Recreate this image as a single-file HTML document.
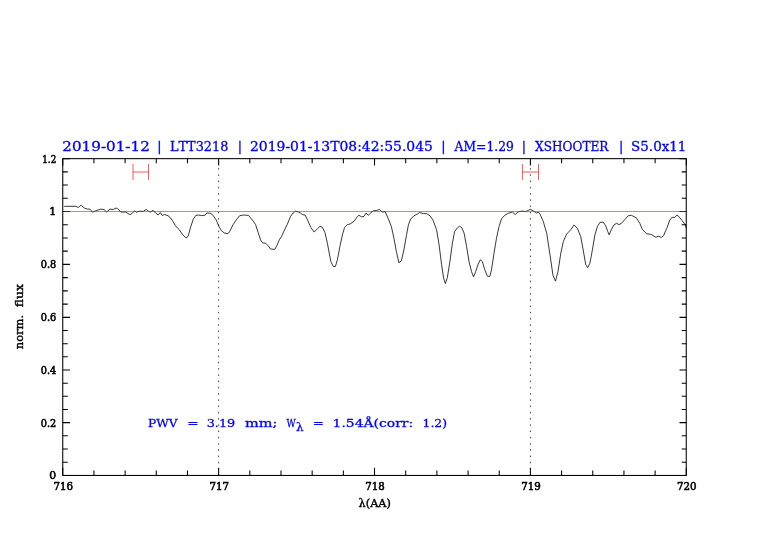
<!DOCTYPE html>
<html><head><meta charset="utf-8"><title>PWV plot</title>
<style>
html,body{margin:0;padding:0;background:#fff;}
body{width:782px;height:542px;overflow:hidden;}
svg{display:block;}
.tk text{font-family:"DejaVu Serif","Liberation Serif",serif;font-size:10.8px;fill:#000;stroke:#000;stroke-width:0.6px;}
.ti text{font-family:"DejaVu Serif","Liberation Serif",serif;font-size:12.8px;fill:#0000ff;stroke:#0000ff;stroke-width:0.3px;font-kerning:none;}
.an text{font-family:"DejaVu Serif","Liberation Serif",serif;font-size:11.9px;fill:#0000ff;stroke:#0000ff;stroke-width:0.3px;font-kerning:none;}
.ax text{font-family:"DejaVu Serif","Liberation Serif",serif;font-size:11px;fill:#000;stroke:#000;stroke-width:0.4px;}
</style></head>
<body>
<svg width="782" height="542" viewBox="0 0 782 542">
<rect width="782" height="542" fill="#fff"/>
<g class="ti">
<text y="150.8"><tspan x="62.32" textLength="87.52" lengthAdjust="spacingAndGlyphs">2019-01-12</tspan> <tspan x="157.34">|</tspan> <tspan x="170.04" textLength="58.27" lengthAdjust="spacingAndGlyphs">LTT3218</tspan> <tspan x="237.74">|</tspan> <tspan x="250.01" textLength="182.92" lengthAdjust="spacingAndGlyphs">2019-01-13T08:42:55.045</tspan> <tspan x="441.34">|</tspan> <tspan x="454.62" textLength="59.26" lengthAdjust="spacingAndGlyphs">AM=1.29</tspan> <tspan x="521.84">|</tspan> <tspan x="535.08" textLength="73.38" lengthAdjust="spacingAndGlyphs">XSHOOTER</tspan> <tspan x="619.04">|</tspan> <tspan x="631.12" textLength="55.24" lengthAdjust="spacingAndGlyphs">S5.0x11</tspan></text>
</g>
<path d="M218.64,158.65 V475.4" stroke="#222" stroke-width="0.85" stroke-dasharray="1.5 4.75" stroke-dashoffset="-3.2" fill="none"/>
<path d="M530.41,158.65 V475.4" stroke="#222" stroke-width="0.85" stroke-dasharray="1.5 4.75" stroke-dashoffset="-3.2" fill="none"/>
<path d="M64.2,206.3 L75.8,206.3 L78.3,207.5 L80.8,205.3 L84.9,208.3 L87.4,209.1 L89.9,209.1 L92.4,212.1 L95.7,210.8 L100.7,209.1 L104.1,209.6 L106.6,212.0 L109.9,209.1 L113.2,209.5 L116.2,208.0 L118.2,209.1 L120.7,212.0 L125.7,212.1 L129.8,214.6 L132.3,213.3 L134.5,210.8 L136.5,212.1 L139.8,211.1 L143.1,211.6 L146.1,209.3 L148.1,211.1 L150.6,212.0 L153.1,210.3 L155.6,213.0 L158.1,215.0 L160.2,212.5 L162.2,215.4 L164.7,214.5 L168.1,215.8 L170.6,217.9 L173.1,221.6 L175.5,225.8 L178.9,229.4 L183.0,234.9 L185.9,237.9 L188.0,236.6 L190.8,226.6 L193.3,219.1 L195.8,215.4 L198.3,215.0 L201.6,215.6 L204.9,215.3 L206.9,213.0 L210.8,213.3 L213.3,215.8 L216.2,219.9 L218.6,225.8 L221.2,230.4 L224.1,232.9 L227.9,233.7 L229.9,231.2 L232.9,224.9 L236.5,219.6 L239.5,215.8 L243.2,215.0 L248.5,215.4 L252.3,219.9 L255.6,224.6 L258.1,232.4 L260.6,239.9 L262.6,242.9 L265.6,243.2 L268.1,245.7 L270.6,249.0 L274.8,249.4 L276.8,245.7 L279.3,239.9 L281.7,236.2 L283.9,231.2 L287.2,224.6 L290.6,216.3 L293.1,213.0 L295.5,211.1 L298.4,212.1 L300.5,213.0 L302.5,214.6 L305.0,215.0 L307.5,219.9 L310.8,227.4 L314.1,232.1 L317.5,228.7 L320.0,226.3 L322.4,227.4 L324.9,232.4 L327.4,243.2 L330.8,261.5 L333.3,266.5 L335.4,266.5 L337.4,259.8 L339.9,246.5 L342.4,234.9 L344.6,227.4 L347.4,224.6 L349.9,224.1 L354.0,221.3 L357.4,216.6 L359.0,215.3 L361.8,216.9 L364.0,216.3 L366.0,213.0 L368.2,215.3 L370.7,213.0 L373.2,210.8 L376.5,210.5 L379.5,209.5 L382.3,212.1 L385.1,211.6 L388.1,218.3 L391.4,226.6 L393.9,238.2 L396.4,251.5 L398.9,262.8 L401.4,260.7 L403.9,249.9 L406.4,235.7 L408.4,224.9 L410.6,219.1 L413.9,215.8 L417.2,214.1 L419.7,212.5 L423.3,213.6 L426.7,213.6 L430.0,215.8 L433.3,220.8 L436.6,229.9 L439.1,244.9 L441.6,264.8 L443.6,278.1 L445.4,283.6 L447.4,277.3 L449.9,261.5 L452.4,243.2 L454.6,231.6 L457.4,227.9 L459.6,226.1 L461.9,227.9 L464.1,233.2 L466.6,246.5 L469.0,261.5 L471.5,271.5 L473.5,276.8 L475.7,271.5 L478.2,264.0 L480.3,259.8 L482.3,261.5 L484.8,269.8 L487.3,276.1 L489.8,276.5 L491.5,269.8 L494.0,253.2 L496.5,238.2 L499.0,226.6 L501.5,218.8 L504.8,215.3 L508.1,213.3 L512.3,212.1 L515.3,214.6 L517.8,212.0 L522.2,211.0 L525.6,211.6 L528.1,210.5 L530.2,209.3 L533.1,210.8 L536.4,213.0 L538.4,212.1 L540.0,214.1 L543.3,221.6 L546.7,233.2 L550.0,254.9 L553.0,275.6 L555.5,281.1 L558.0,271.5 L560.8,253.2 L563.3,241.6 L566.6,234.1 L570.8,229.6 L574.1,224.9 L577.4,228.3 L580.7,236.6 L583.2,249.9 L585.7,264.5 L587.7,267.7 L589.9,263.2 L592.4,249.9 L594.9,234.9 L597.4,226.6 L599.9,222.4 L603.2,222.1 L605.7,225.8 L607.8,231.6 L609.2,234.9 L611.2,229.9 L614.0,224.9 L616.5,223.3 L619.0,224.6 L621.5,223.3 L624.8,219.6 L628.1,215.8 L631.4,215.3 L636.4,217.9 L639.8,223.3 L642.2,229.1 L646.4,233.7 L651.1,234.4 L653.9,236.1 L656.0,237.4 L658.0,236.1 L661.4,237.4 L663.6,235.7 L665.7,230.7 L667.1,227.7 L669.4,221.0 L670.7,218.7 L672.2,217.4 L674.8,217.4 L676.9,215.1 L678.9,216.6 L682.0,220.5 L685.1,224.6 L686.4,228.3" stroke="#000" stroke-width="0.78" fill="none" stroke-linejoin="round"/>
<g stroke="#ff0000" stroke-width="0.66" fill="none">
<path d="M133,164 V180 M148.5,164 V180 M133,172 H148.5"/>
<path d="M522.45,164 V180 M538.5,164 V180 M522.45,172 H538.5"/>
</g>
<rect x="62.75" y="158.65" width="623.5" height="316.8" fill="none" stroke="#000" stroke-width="1.05"/>
<path d="M62.75,158.65 v6.8 M62.75,475.40 v-7.6 M93.93,158.65 v4.6 M93.93,475.40 v-5.0 M125.10,158.65 v4.6 M125.10,475.40 v-5.0 M156.28,158.65 v4.6 M156.28,475.40 v-5.0 M187.46,158.65 v4.6 M187.46,475.40 v-5.0 M218.64,158.65 v6.8 M218.64,475.40 v-7.6 M249.81,158.65 v4.6 M249.81,475.40 v-5.0 M280.99,158.65 v4.6 M280.99,475.40 v-5.0 M312.17,158.65 v4.6 M312.17,475.40 v-5.0 M343.35,158.65 v4.6 M343.35,475.40 v-5.0 M374.52,158.65 v6.8 M374.52,475.40 v-7.6 M405.70,158.65 v4.6 M405.70,475.40 v-5.0 M436.88,158.65 v4.6 M436.88,475.40 v-5.0 M468.06,158.65 v4.6 M468.06,475.40 v-5.0 M499.23,158.65 v4.6 M499.23,475.40 v-5.0 M530.41,158.65 v6.8 M530.41,475.40 v-7.6 M561.59,158.65 v4.6 M561.59,475.40 v-5.0 M592.77,158.65 v4.6 M592.77,475.40 v-5.0 M623.94,158.65 v4.6 M623.94,475.40 v-5.0 M655.12,158.65 v4.6 M655.12,475.40 v-5.0 M686.30,158.65 v6.8 M686.30,475.40 v-7.6 M62.75,158.65 h7.2 M686.30,158.65 h-6.8 M62.75,171.86 h5.0 M686.30,171.86 h-4.6 M62.75,185.08 h5.0 M686.30,185.08 h-4.6 M62.75,198.29 h5.0 M686.30,198.29 h-4.6 M62.75,211.50 h7.2 M686.30,211.50 h-6.8 M62.75,224.71 h5.0 M686.30,224.71 h-4.6 M62.75,237.93 h5.0 M686.30,237.93 h-4.6 M62.75,251.14 h5.0 M686.30,251.14 h-4.6 M62.75,264.35 h7.2 M686.30,264.35 h-6.8 M62.75,277.60 h5.0 M686.30,277.60 h-4.6 M62.75,290.85 h5.0 M686.30,290.85 h-4.6 M62.75,304.10 h5.0 M686.30,304.10 h-4.6 M62.75,317.35 h7.2 M686.30,317.35 h-6.8 M62.75,330.51 h5.0 M686.30,330.51 h-4.6 M62.75,343.68 h5.0 M686.30,343.68 h-4.6 M62.75,356.84 h5.0 M686.30,356.84 h-4.6 M62.75,370.00 h7.2 M686.30,370.00 h-6.8 M62.75,383.15 h5.0 M686.30,383.15 h-4.6 M62.75,396.30 h5.0 M686.30,396.30 h-4.6 M62.75,409.45 h5.0 M686.30,409.45 h-4.6 M62.75,422.60 h7.2 M686.30,422.60 h-6.8 M62.75,435.80 h5.0 M686.30,435.80 h-4.6 M62.75,449.00 h5.0 M686.30,449.00 h-4.6 M62.75,462.20 h5.0 M686.30,462.20 h-4.6 M62.75,475.40 h7.2 M686.30,475.40 h-6.8" stroke="#000" stroke-width="1.05" fill="none"/>
<path d="M63.25,211.5 H685.8" stroke="#ff0000" stroke-width="0.56" fill="none"/>
<g class="tk">
<text x="42.3" y="162.7" textLength="13.9" lengthAdjust="spacingAndGlyphs">1.2</text>
<text x="56.2" y="215.4" text-anchor="end">1</text>
<text x="40.7" y="268.4" textLength="15.5" lengthAdjust="spacingAndGlyphs">0.8</text>
<text x="40.7" y="321.4" textLength="15.5" lengthAdjust="spacingAndGlyphs">0.6</text>
<text x="40.7" y="374.0" textLength="15.5" lengthAdjust="spacingAndGlyphs">0.4</text>
<text x="40.7" y="426.6" textLength="15.5" lengthAdjust="spacingAndGlyphs">0.2</text>
<text x="56.2" y="479.4" text-anchor="end">0</text>
<text x="53.5" y="490.2" textLength="19.5" lengthAdjust="spacingAndGlyphs">716</text>
<text x="209.4" y="490.2" textLength="19.5" lengthAdjust="spacingAndGlyphs">717</text>
<text x="365.3" y="490.2" textLength="19.5" lengthAdjust="spacingAndGlyphs">718</text>
<text x="521.2" y="490.2" textLength="19.5" lengthAdjust="spacingAndGlyphs">719</text>
<text x="677.0" y="490.2" textLength="19.5" lengthAdjust="spacingAndGlyphs">720</text>
</g>
<g class="an">
<text y="427.4"><tspan x="148.08" textLength="29.49" lengthAdjust="spacingAndGlyphs">PWV</tspan> <tspan x="187.21" textLength="11.38" lengthAdjust="spacingAndGlyphs">=</tspan> <tspan x="206.67" textLength="28.54" lengthAdjust="spacingAndGlyphs">3.19</tspan> <tspan x="245.03" textLength="32.39" lengthAdjust="spacingAndGlyphs">mm;</tspan> <tspan x="286.51" textLength="9.17" lengthAdjust="spacingAndGlyphs">W</tspan><tspan x="296.0" dy="3.5" textLength="7.6" lengthAdjust="spacingAndGlyphs" style="font-size:10.6px">λ</tspan><tspan dy="-3.5"> </tspan> <tspan x="312.75" textLength="11.11" lengthAdjust="spacingAndGlyphs">=</tspan> <tspan x="332.55" textLength="80.63" lengthAdjust="spacingAndGlyphs">1.54Å(corr:</tspan> <tspan x="422.54" textLength="24.49" lengthAdjust="spacingAndGlyphs">1.2)</tspan></text>
</g>
<g class="ax">
<text x="358.6" y="506.6" textLength="32.3" lengthAdjust="spacingAndGlyphs">λ(AA)</text>
<text transform="translate(23.4,349.2) rotate(-90)" style="font-size:11.8px"><tspan x="0" textLength="34.3" lengthAdjust="spacingAndGlyphs">norm.</tspan> <tspan x="42" textLength="23.3" lengthAdjust="spacingAndGlyphs">flux</tspan></text>
</g>
</svg>
</body></html>
